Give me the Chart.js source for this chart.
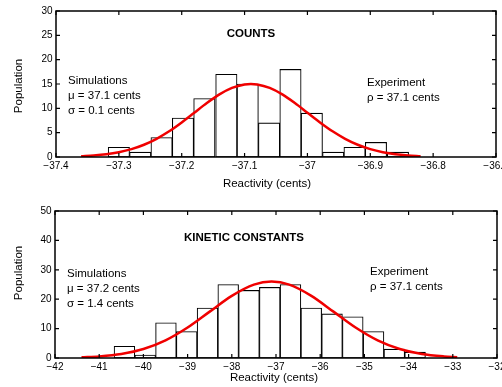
<!DOCTYPE html>
<html>
<head>
<meta charset="utf-8">
<script src="https://cdn.jsdelivr.net/npm/chart.js@4.4.1/dist/chart.umd.min.js"></script>
<style>
  html, body { margin: 0; padding: 0; background: #fff; }
  #wrap { position: relative; width: 502px; height: 387px; overflow: hidden; }
  canvas { position: absolute; left: 0; }
</style>
</head>
<body>
<div id="wrap">
  <canvas id="c1" width="502" height="193" style="top:0"></canvas>
  <canvas id="c2" width="502" height="194" style="top:193px"></canvas>
</div>
<script>
// ---------- COUNTS (top) ----------
const countsBinCenters = [-37.300, -37.266, -37.232, -37.198, -37.164, -37.129, -37.095,
                          -37.061, -37.027, -36.993, -36.959, -36.925, -36.891, -36.856];
const countsPopulation = [2, 1, 4, 8, 12, 17, 15, 7, 18, 9, 1, 2, 3, 1];
const countsFitX = [-37.36, -37.34, -37.32, -37.30, -37.28, -37.26, -37.24, -37.22, -37.20,
                    -37.18, -37.16, -37.14, -37.12, -37.10, -37.09, -37.08, -37.06, -37.04,
                    -37.02, -37.00, -36.98, -36.96, -36.94, -36.92, -36.90, -36.88, -36.86,
                    -36.84, -36.82];
const countsFitY = [0.17, 0.32, 0.57, 0.99, 1.62, 2.52, 3.74, 5.28, 7.11,
                    9.10, 11.09, 12.86, 14.19, 14.91, 15.0, 14.91, 14.19, 12.86,
                    11.09, 9.10, 7.11, 5.28, 3.74, 2.52, 1.62, 0.99, 0.57,
                    0.32, 0.17];
const countsXTickValues = [-37.4, -37.3, -37.2, -37.1, -37.0, -36.9, -36.8, -36.7];
const countsXTickLabels = ['\u221237.4', '\u221237.3', '\u221237.2', '\u221237.1', '\u221237', '\u221236.9', '\u221236.8', '\u221236.7'];
const countsYTickValues = [0, 5, 10, 15, 20, 25, 30];
const countsYTickLabels = ['0', '5', '10', '15', '20', '25', '30'];

// ---------- KINETIC CONSTANTS (bottom) ----------
const kinBinCenters = [-40.429, -39.959, -39.490, -39.020, -38.550, -38.081, -37.611, -37.141,
                       -36.672, -36.202, -35.732, -35.263, -34.793, -34.323, -33.853];
const kinPopulation = [4, 1, 12, 9, 17, 25, 23, 24, 25, 17, 15, 14, 9, 3, 2];
const kinFitX = [-41.4, -41.0, -40.5, -40.0, -39.5, -39.0, -38.5, -38.0, -37.5, -37.1,
                 -36.7, -36.2, -35.7, -35.2, -34.7, -34.2, -33.7, -33.2, -32.9];
const kinFitY = [0.23, 0.54, 1.36, 3.04, 5.99, 10.35, 15.77, 21.14, 24.96, 26.0,
                 24.96, 21.14, 15.77, 10.35, 5.99, 3.04, 1.36, 0.54, 0.29];
const kinXTickValues = [-42, -41, -40, -39, -38, -37, -36, -35, -34, -33, -32];
const kinXTickLabels = ['\u221242', '\u221241', '\u221240', '\u221239', '\u221238', '\u221237', '\u221236', '\u221235', '\u221234', '\u221233', '\u221232'];
const kinYTickValues = [0, 10, 20, 30, 40, 50];
const kinYTickLabels = ['0', '10', '20', '30', '40', '50'];

const FONT = "'Liberation Sans', Arial, Helvetica, sans-serif";

function framePlugin(cfg) {
  return {
    id: 'frame',
    afterDatasetsDraw(chart) {
      const ctx = chart.ctx;
      const a = chart.chartArea;
      const xs = chart.scales.x, ys = chart.scales.y;
      ctx.save();
      ctx.strokeStyle = '#000';
      ctx.lineWidth = 1.5;
      ctx.strokeRect(a.left, a.top, a.right - a.left, a.bottom - a.top);
      ctx.lineWidth = 1.2;
      const T = 4;
      ctx.beginPath();
      cfg.xTicks.forEach(v => {
        const px = xs.getPixelForValue(v);
        ctx.moveTo(px, a.bottom); ctx.lineTo(px, a.bottom - T);
        ctx.moveTo(px, a.top); ctx.lineTo(px, a.top + T);
      });
      cfg.yTicks.forEach(v => {
        const py = ys.getPixelForValue(v);
        ctx.moveTo(a.left, py); ctx.lineTo(a.left + T, py);
        ctx.moveTo(a.right, py); ctx.lineTo(a.right - T, py);
      });
      ctx.stroke();
      // tick labels
      ctx.fillStyle = '#000';
      ctx.font = '10px ' + FONT;
      ctx.textAlign = 'center';
      ctx.textBaseline = 'middle';
      cfg.xTicks.forEach((v, i) => {
        ctx.fillText(cfg.xLabels[i], xs.getPixelForValue(v), a.bottom + 9.5);
      });
      ctx.textAlign = 'right';
      cfg.yTicks.forEach((v, i) => {
        ctx.fillText(cfg.yLabels[i], a.left - 3.5, ys.getPixelForValue(v));
      });
      // axis titles
      ctx.font = '11.5px ' + FONT;
      ctx.textAlign = 'center';
      ctx.fillText('Reactivity (cents)', cfg.xTitle[0], cfg.xTitle[1]);
      ctx.save();
      ctx.translate(cfg.yTitle[0], cfg.yTitle[1]);
      ctx.rotate(-Math.PI / 2);
      ctx.fillText('Population', 0, 0);
      ctx.restore();
      // panel title
      ctx.font = 'bold 11.5px ' + FONT;
      ctx.fillText(cfg.title, cfg.titlePos[0], cfg.titlePos[1]);
      // annotations
      ctx.font = '11.5px ' + FONT;
      ctx.textAlign = 'left';
      cfg.simLines.forEach((t, i) => ctx.fillText(t, cfg.simPos[0], cfg.simPos[1] + i * 15));
      cfg.expLines.forEach((t, i) => ctx.fillText(t, cfg.expPos[0], cfg.expPos[1] + i * 15));
      ctx.restore();
    }
  };
}

function makeChart(id, o) {
  return new Chart(document.getElementById(id), {
    type: 'bar',
    data: {
      datasets: [
        {
          type: 'line',
          data: o.fitX.map((x, i) => ({ x: x, y: o.fitY[i] })),
          borderColor: '#f00000',
          borderWidth: 2.5,
          pointRadius: 0,
          cubicInterpolationMode: 'monotone',
          fill: false,
          order: 0
        },
        {
          type: 'bar',
          data: o.centers.map((x, i) => ({ x: x, y: o.pop[i] })),
          backgroundColor: '#ffffff',
          borderColor: '#000000',
          borderWidth: 1.1,
          borderSkipped: false,
          barPercentage: 1.0,
          categoryPercentage: 1.0,
          order: 1
        }
      ]
    },
    options: {
      responsive: false,
      animation: false,
      devicePixelRatio: 1,
      layout: { autoPadding: false, padding: { left: 0, top: o.padTop, right: o.padRight, bottom: 0 } },
      plugins: { legend: { display: false }, tooltip: { enabled: false } },
      scales: {
        x: {
          type: 'linear', min: o.xMin, max: o.xMax, offset: false,
          grid: { display: false, offset: false },
          border: { display: false },
          ticks: { display: false },
          afterFit: s => { s.height = o.xH; }
        },
        y: {
          type: 'linear', min: 0, max: o.yMax,
          grid: { display: false },
          border: { display: false },
          ticks: { display: false },
          afterFit: s => { s.width = o.yW; }
        }
      }
    },
    plugins: [framePlugin(o.frame)]
  });
}

makeChart('c1', {
  centers: countsBinCenters, pop: countsPopulation, fitX: countsFitX, fitY: countsFitY,
  xMin: -37.4, xMax: -36.7, yMax: 30,
  padTop: 11, padRight: 6, xH: 36, yW: 56,
  frame: {
    xTicks: countsXTickValues, xLabels: countsXTickLabels,
    yTicks: countsYTickValues, yLabels: countsYTickLabels,
    xTitle: [267, 184], yTitle: [19, 86],
    title: 'COUNTS', titlePos: [251, 34],
    simLines: ['Simulations', '\u03bc = 37.1 cents', '\u03c3 = 0.1 cents'], simPos: [68, 81],
    expLines: ['Experiment', '\u03c1 = 37.1 cents'], expPos: [367, 83]
  }
});

makeChart('c2', {
  centers: kinBinCenters, pop: kinPopulation, fitX: kinFitX, fitY: kinFitY,
  xMin: -42, xMax: -32, yMax: 50,
  padTop: 18, padRight: 5, xH: 29, yW: 55,
  frame: {
    xTicks: kinXTickValues, xLabels: kinXTickLabels,
    yTicks: kinYTickValues, yLabels: kinYTickLabels,
    xTitle: [274, 184.5], yTitle: [19, 80],
    title: 'KINETIC CONSTANTS', titlePos: [244, 45],
    simLines: ['Simulations', '\u03bc = 37.2 cents', '\u03c3 = 1.4 cents'], simPos: [67, 81],
    expLines: ['Experiment', '\u03c1 = 37.1 cents'], expPos: [370, 79]
  }
});
</script>
</body>
</html>
